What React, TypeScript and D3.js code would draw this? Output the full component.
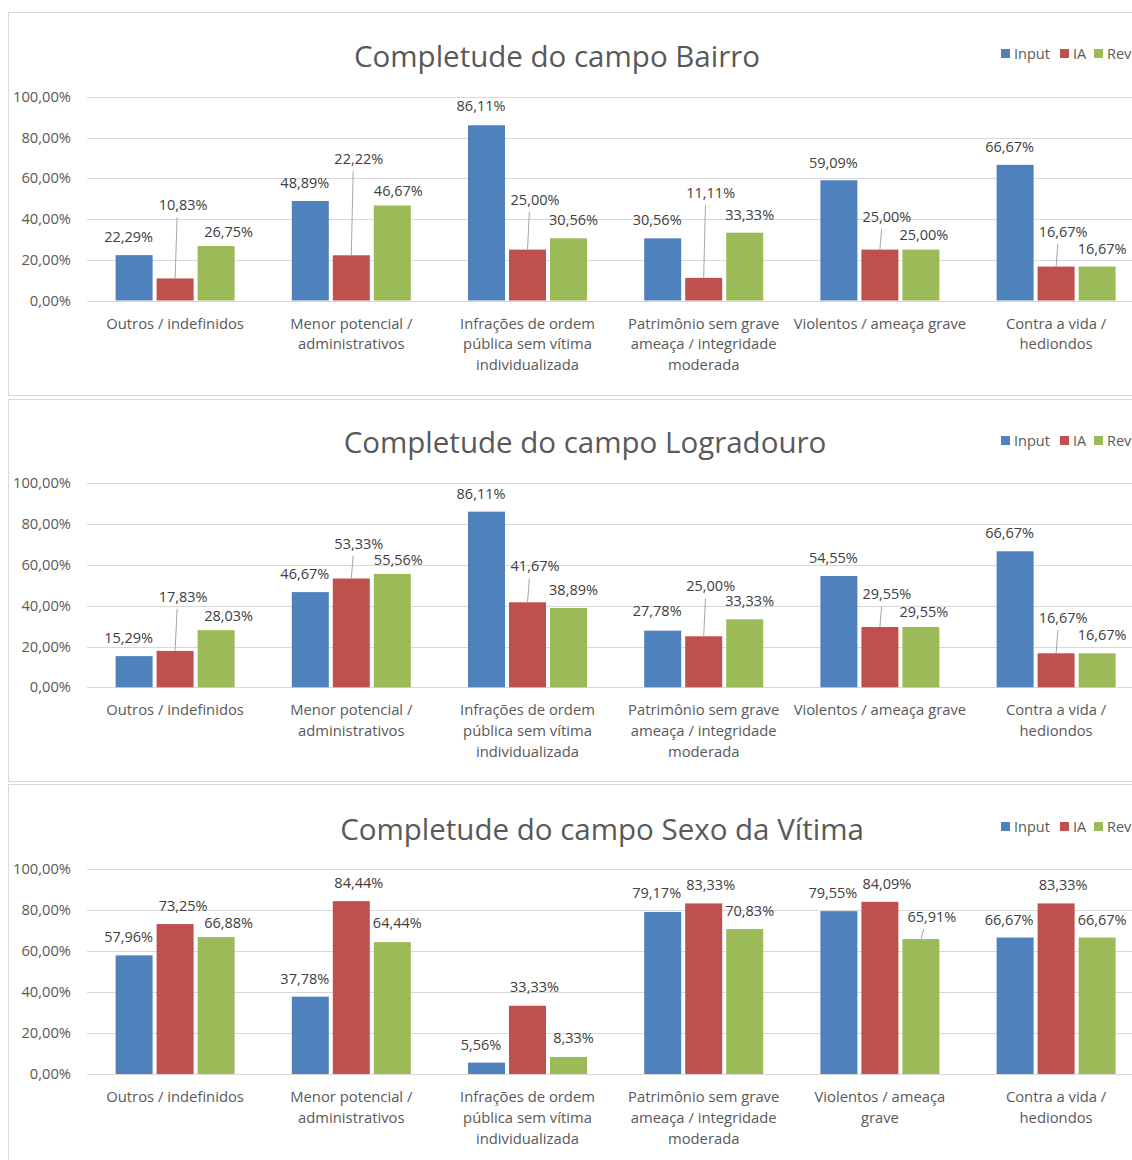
import React, { useEffect, useRef } from 'react';
import * as d3 from 'd3';

// categories and series
const categories = [
  'Outros / indefinidos',
  'Menor potencial / administrativos',
  'Infrações de ordem pública sem vítima individualizada',
  'Patrimônio sem grave ameaça / integridade moderada',
  'Violentos / ameaça grave',
  'Contra a vida / hediondos',
];
const series = ['Input', 'IA', 'Revisão'];
const yTicks = [0, 20, 40, 60, 80, 100];

// wrapped category labels (as Excel wrapped them)
const categoryLinesWide = [
  ['Outros / indefinidos'],
  ['Menor potencial /', 'administrativos'],
  ['Infrações de ordem', 'pública sem vítima', 'individualizada'],
  ['Patrimônio sem grave', 'ameaça / integridade', 'moderada'],
  ['Violentos / ameaça grave'],
  ['Contra a vida /', 'hediondos'],
];
const categoryLinesNarrow = [
  ['Outros / indefinidos'],
  ['Menor potencial /', 'administrativos'],
  ['Infrações de ordem', 'pública sem vítima', 'individualizada'],
  ['Patrimônio sem grave', 'ameaça / integridade', 'moderada'],
  ['Violentos / ameaça', 'grave'],
  ['Contra a vida /', 'hediondos'],
];

// values (%)
const bairroInput = [22.29, 48.89, 86.11, 30.56, 59.09, 66.67];
const bairroIA = [10.83, 22.22, 25.0, 11.11, 25.0, 16.67];
const bairroRev = [26.75, 46.67, 30.56, 33.33, 25.0, 16.67];

const logradouroInput = [15.29, 46.67, 86.11, 27.78, 54.55, 66.67];
const logradouroIA = [17.83, 53.33, 41.67, 25.0, 29.55, 16.67];
const logradouroRev = [28.03, 55.56, 38.89, 33.33, 29.55, 16.67];

const sexoInput = [57.96, 37.78, 5.56, 79.17, 79.55, 66.67];
const sexoIA = [73.25, 84.44, 33.33, 83.33, 84.09, 83.33];
const sexoRev = [66.88, 64.44, 8.33, 70.83, 65.91, 66.67];

const colors = ['#4F81BD', '#C0504D', '#9BBB59'];

// data label placement (px above bar top / horizontal nudge), as dragged in the original
const bairroLift = [
  [18, 18, 19, 18, 17, 18],
  [73, 96, 50, 85, 33, 35],
  [14, 15, 18, 18, 15, 18],
];
const logradouroLift = [
  [18, 18, 18, 20, 18, 18],
  [54, 35, 36, 50, 33, 35],
  [14, 14, 18, 18, 15, 18],
];
const sexoLift = [
  [18, 18, 18, 19, 18, 18],
  [18, 18, 19, 18, 18, 18],
  [14, 19, 19, 18, 22, 18],
];
const dxWide = [
  [-5.5, -5.5, -5.5, -5.5, -5.5, -5.5],
  [8, 7.5, 7.5, 7, 7, 7],
  [12.5, 6, 5, 5, 3, 5],
];
const dxNarrow = [
  [-5.5, -5.5, -5.5, -6, -6, -6],
  [8, 7.5, 7, 7, 7, 7],
  [12.5, 5, 5, 5, 11, 5],
];

const panels = [
  {
    title: 'Completude do campo Bairro', titleX: 557, values: [bairroInput, bairroIA, bairroRev],
    lift: bairroLift, dx: dxWide, cats: categoryLinesWide,
    box: [12, 395], plot: [97, 300.5], titleY: 67, legendY: 59,
  },
  {
    title: 'Completude do campo Logradouro', titleX: 585, values: [logradouroInput, logradouroIA, logradouroRev],
    lift: logradouroLift, dx: dxWide, cats: categoryLinesWide,
    box: [399, 781], plot: [483.3, 687.3], titleY: 453, legendY: 446,
  },
  {
    title: 'Completude do campo Sexo da Vítima', titleX: 602, values: [sexoInput, sexoIA, sexoRev],
    lift: sexoLift, dx: dxNarrow, cats: categoryLinesNarrow,
    box: [784, 1175], plot: [869.3, 1074], titleY: 840, legendY: 832,
  },
];

const W = 1132;
const H = 1160;
const FONT = '"Open Sans", sans-serif';
const fmt = (v: number) => v.toFixed(2).replace('.', ',') + '%';

export default function App() {
  const svgRef = useRef<SVGSVGElement>(null);

  useEffect(() => {
    if (!svgRef.current) return;
    const svg = d3.select(svgRef.current);
    svg.selectAll('*').remove();

    const x = d3.scaleBand<string>().domain(categories).range([87, 1144.2]);
    const xs = d3.scaleBand<string>().domain(series).range([26.6, 26.6 + 123]);

    panels.forEach((p) => {
      const g = svg.append('g');
      g.append('rect')
        .attr('x', 8.5).attr('y', p.box[0] + 0.5)
        .attr('width', 1200).attr('height', p.box[1] - p.box[0])
        .attr('fill', '#fff').attr('stroke', '#D9D9D9');

      const y = d3.scaleLinear().domain([0, 100]).range([p.plot[1], p.plot[0]]);

      // gridlines + ticks
      yTicks.forEach((t) => {
        g.append('line')
          .attr('x1', 87).attr('x2', 1144)
          .attr('y1', Math.round(y(t)) + 0.5).attr('y2', Math.round(y(t)) + 0.5)
          .attr('stroke', '#D9D9D9').attr('stroke-width', 1.2);
        g.append('text')
          .attr('x', 71).attr('y', y(t) + 5)
          .attr('text-anchor', 'end')
          .attr('font-family', FONT).attr('font-size', 14.7)
          .attr('fill', '#595959')
          .text(fmt(t));
      });

      // title
      g.append('text')
        .attr('x', p.titleX).attr('y', p.titleY)
        .attr('text-anchor', 'middle')
        .attr('font-family', FONT).attr('font-size', 29.5)
        .attr('fill', '#595959')
        .text(p.title);

      // legend (last entry runs off the right edge, as in the original crop)
      const legendX = [1001, 1060, 1094];
      series.forEach((s, i) => {
        g.append('rect')
          .attr('x', legendX[i]).attr('y', p.legendY - 10)
          .attr('width', 9).attr('height', 9)
          .attr('fill', colors[i]);
        g.append('text')
          .attr('x', legendX[i] + 13).attr('y', p.legendY)
          .attr('font-family', FONT).attr('font-size', 14.5)
          .attr('fill', '#595959')
          .text(s);
      });

      // bars
      categories.forEach((c, ci) => {
        series.forEach((s, si) => {
          const v = p.values[si][ci];
          const bx = (x(c) as number) + (xs(s) as number);
          const bw = xs.bandwidth();
          g.append('rect')
            .attr('x', bx + 2).attr('y', y(v))
            .attr('width', bw - 4).attr('height', y(0) - y(v))
            .attr('fill', colors[si]);
        });
      });

      // data labels
      categories.forEach((c, ci) => {
        series.forEach((s, si) => {
          const v = p.values[si][ci];
          const cx = (x(c) as number) + (xs(s) as number) + xs.bandwidth() / 2;
          const top = y(v);
          const lift = p.lift[si][ci];
          const dx = p.dx[si][ci];
          const ly = top - lift;
          if (lift > 21) {
            g.append('line')
              .attr('x1', cx).attr('y1', top)
              .attr('x2', cx + dx * 0.25).attr('y2', ly + 12)
              .attr('stroke', '#A6A6A6').attr('stroke-width', 1);
          }
          g.append('text')
            .attr('x', cx + dx).attr('y', ly + 5)
            .attr('text-anchor', 'middle')
            .attr('font-family', FONT).attr('font-size', 14.5)
            .attr('fill', '#404040')
            .text(fmt(v));
        });
      });

      // category labels
      p.cats.forEach((lines, ci) => {
        const cx = (x(categories[ci]) as number) + x.bandwidth() / 2;
        lines.forEach((ln, li) => {
          g.append('text')
            .attr('x', cx).attr('y', p.plot[1] + 28 + li * 20.8)
            .attr('text-anchor', 'middle')
            .attr('font-family', FONT).attr('font-size', 14.8)
            .attr('fill', '#595959')
            .text(ln);
        });
      });
    });
  }, []);

  return (
    <div style={{ position: 'absolute', left: 0, top: 0, width: W, height: H, overflow: 'hidden', background: '#fff' }}>
      <svg ref={svgRef} width={W} height={H} style={{ display: 'block' }} />
    </div>
  );
}
